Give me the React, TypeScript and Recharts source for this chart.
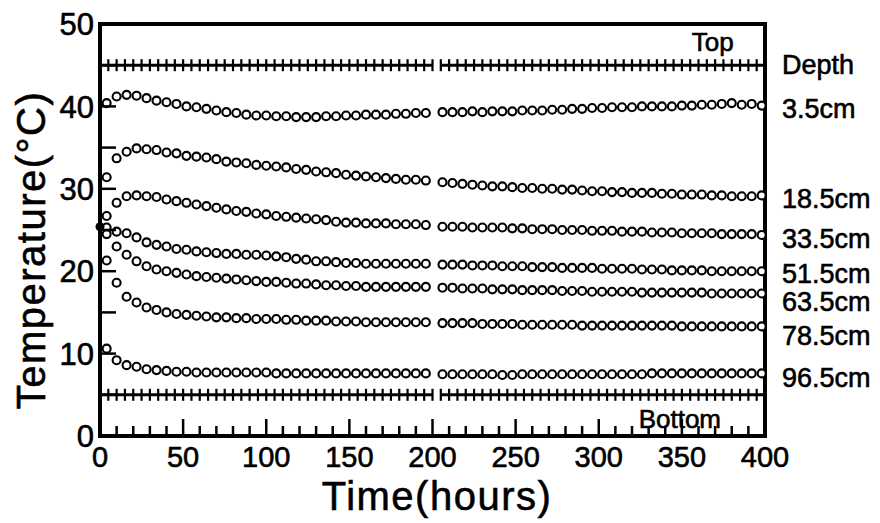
import React from 'react';
import { ComposedChart, Scatter, XAxis, YAxis } from 'recharts';

// ---- data ----
const times = [
  4, 10, 16, 22, 28, 34, 40, 46, 52, 58, 64, 70, 76, 82, 88, 94, 100, 106, 112, 118, 124, 130, 136, 142, 148, 154, 160, 166, 172, 178, 184, 190, 196,
  206, 212, 218, 224, 230, 236, 242, 248, 254, 260, 266, 272, 278, 284, 290, 296, 302, 308, 314, 320, 326, 332, 338, 344, 350, 356, 362, 368, 374, 380, 386, 392, 398,
];

const depthNames = ['3.5cm', '18.5cm', '33.5cm', '51.5cm', '63.5cm', '78.5cm', '96.5cm'];

const temp3_5 = [
  40.4, 41.2, 41.4, 41.3, 41.0, 40.7, 40.5, 40.3, 40.0, 39.9, 39.7, 39.5, 39.3, 39.2, 39.0, 38.9, 38.9, 38.8, 38.8, 38.7, 38.7, 38.7, 38.8, 38.8, 38.9, 38.9, 39.0, 39.0, 39.0, 39.1, 39.1, 39.2, 39.2,
  39.3, 39.3, 39.3, 39.4, 39.3, 39.4, 39.4, 39.4, 39.5, 39.5, 39.5, 39.6, 39.6, 39.7, 39.7, 39.8, 39.8, 39.9, 39.9, 39.9, 40.0, 40.0, 40.0, 40.0, 40.1, 40.1, 40.2, 40.2, 40.3, 40.4, 40.2, 40.3, 40.1,
];
const temp18_5 = [
  31.4, 33.7, 34.5, 34.9, 34.8, 34.7, 34.4, 34.3, 34.0, 33.9, 33.8, 33.6, 33.3, 33.2, 33.1, 32.9, 32.8, 32.7, 32.6, 32.4, 32.3, 32.1, 32.0, 31.9, 31.7, 31.6, 31.5, 31.4, 31.3, 31.2, 31.1, 31.1, 31.0,
  30.8, 30.7, 30.6, 30.5, 30.4, 30.3, 30.3, 30.2, 30.1, 30.1, 30.0, 30.0, 29.9, 29.9, 29.8, 29.7, 29.7, 29.6, 29.6, 29.5, 29.5, 29.5, 29.4, 29.4, 29.3, 29.3, 29.3, 29.2, 29.2, 29.1, 29.1, 29.1, 29.2,
];
const temp33_5 = [
  26.7, 28.3, 29.1, 29.2, 29.1, 29.0, 28.7, 28.5, 28.3, 28.1, 27.9, 27.7, 27.5, 27.3, 27.2, 27.0, 26.9, 26.7, 26.6, 26.5, 26.4, 26.3, 26.2, 26.0, 25.9, 25.9, 25.8, 25.8, 25.8, 25.7, 25.7, 25.7, 25.6,
  25.4, 25.4, 25.4, 25.3, 25.3, 25.3, 25.3, 25.2, 25.2, 25.1, 25.1, 25.1, 25.0, 25.0, 25.0, 24.9, 24.9, 24.9, 24.8, 24.8, 24.8, 24.7, 24.7, 24.7, 24.6, 24.6, 24.6, 24.6, 24.5, 24.5, 24.5, 24.5, 24.4,
];
const temp51_5 = [
  25.3, 24.8, 24.6, 24.1, 23.5, 23.2, 23.0, 22.7, 22.6, 22.4, 22.3, 22.2, 22.1, 22.1, 22.0, 22.0, 21.9, 21.8, 21.7, 21.5, 21.4, 21.2, 21.2, 21.1, 21.0, 21.0, 20.9, 20.9, 20.9, 20.9, 20.9, 20.9, 20.9,
  20.8, 20.8, 20.8, 20.7, 20.7, 20.7, 20.6, 20.6, 20.6, 20.5, 20.5, 20.5, 20.4, 20.4, 20.4, 20.4, 20.3, 20.3, 20.3, 20.3, 20.2, 20.2, 20.2, 20.1, 20.1, 20.1, 20.1, 20.0, 20.0, 20.0, 20.0, 20.0, 20.0,
];
const temp63_5 = [
  24.5, 23.0, 22.0, 21.2, 20.6, 20.2, 20.0, 19.8, 19.6, 19.4, 19.3, 19.2, 19.1, 19.0, 18.9, 18.8, 18.7, 18.7, 18.6, 18.5, 18.5, 18.4, 18.3, 18.3, 18.2, 18.2, 18.1, 18.1, 18.1, 18.1, 18.1, 18.1, 18.1,
  18.0, 18.0, 17.9, 17.9, 17.9, 17.8, 17.8, 17.8, 17.7, 17.7, 17.7, 17.7, 17.6, 17.6, 17.6, 17.5, 17.5, 17.5, 17.5, 17.5, 17.4, 17.4, 17.4, 17.4, 17.4, 17.4, 17.4, 17.3, 17.3, 17.3, 17.3, 17.3, 17.3,
];
const temp78_5 = [
  21.3, 18.6, 16.9, 16.2, 15.6, 15.3, 15.0, 14.8, 14.7, 14.6, 14.5, 14.4, 14.4, 14.3, 14.3, 14.2, 14.2, 14.2, 14.1, 14.1, 14.0, 14.0, 14.0, 13.9, 13.9, 13.9, 13.8, 13.8, 13.8, 13.8, 13.8, 13.8, 13.8,
  13.7, 13.7, 13.7, 13.7, 13.6, 13.6, 13.6, 13.6, 13.5, 13.5, 13.5, 13.5, 13.5, 13.5, 13.4, 13.4, 13.4, 13.4, 13.4, 13.4, 13.4, 13.4, 13.4, 13.4, 13.3, 13.3, 13.3, 13.3, 13.3, 13.3, 13.3, 13.3, 13.3,
];
const temp96_5 = [
  10.6, 9.2, 8.6, 8.4, 8.1, 8.0, 7.9, 7.8, 7.8, 7.7, 7.7, 7.7, 7.7, 7.7, 7.7, 7.7, 7.7, 7.6, 7.6, 7.6, 7.6, 7.6, 7.6, 7.6, 7.6, 7.6, 7.6, 7.6, 7.6, 7.6, 7.6, 7.6, 7.6,
  7.5, 7.5, 7.5, 7.5, 7.5, 7.5, 7.4, 7.4, 7.5, 7.5, 7.5, 7.5, 7.5, 7.5, 7.5, 7.5, 7.5, 7.5, 7.5, 7.5, 7.5, 7.6, 7.6, 7.6, 7.6, 7.6, 7.6, 7.6, 7.6, 7.6, 7.6, 7.6, 7.6,
];
const seriesTemps = [temp3_5, temp18_5, temp33_5, temp51_5, temp63_5, temp78_5, temp96_5];

// initial measurement (filled dot at time zero)
const initialTimes = [0];
const initialTemps = [25.4];

// boundary conditions (Top / Bottom)
const boundaryTimesA = [
  0, 5, 10, 15, 20, 25, 30, 35, 40, 45, 50, 55, 60, 65, 70, 75, 80, 85, 90, 95, 100,
  105, 110, 115, 120, 125, 130, 135, 140, 145, 150, 155, 160, 165, 170, 175, 180, 185, 190, 195, 200,
];
const boundaryTimesB = [
  205, 210, 215, 220, 225, 230, 235, 240, 245, 250, 255, 260, 265, 270, 275, 280, 285, 290, 295, 300,
  305, 310, 315, 320, 325, 330, 335, 340, 345, 350, 355, 360, 365, 370, 375, 380, 385, 390, 395, 400,
];
const topTemp = 45;
const bottomTemp = 5;

// right-hand depth labels
const depthLabelTexts = ['Depth', '3.5cm', '18.5cm', '33.5cm', '51.5cm', '63.5cm', '78.5cm', '96.5cm'];
const depthLabelTemps = [45.1, 39.8, 28.8, 24.0, 19.7, 16.4, 12.2, 7.1];
const depthLabelTime = 400;

// zone annotations
const zoneTexts = ['Top', 'Bottom'];
const zoneTimes = [356, 324];
const zoneTemps = [46.7, 0.97];

// ticks
const xTicks = [0, 10, 20, 30, 40, 50, 60, 70, 80, 90, 100, 110, 120, 130, 140, 150, 160, 170, 180, 190, 200,
  210, 220, 230, 240, 250, 260, 270, 280, 290, 300, 310, 320, 330, 340, 350, 360, 370, 380, 390, 400];
const yTicks = [0, 5, 10, 15, 20, 25, 30, 35, 40, 45, 50];

// ---- build ----
const seriesData = seriesTemps.map((arr) => times.map((t, i) => ({ x: t, y: arr[i] })));
const initialData = initialTimes.map((t, i) => ({ x: t, y: initialTemps[i] }));
const topA = boundaryTimesA.map((t) => ({ x: t, y: topTemp }));
const topB = boundaryTimesB.map((t) => ({ x: t, y: topTemp }));
const botA = boundaryTimesA.map((t) => ({ x: t, y: bottomTemp }));
const botB = boundaryTimesB.map((t) => ({ x: t, y: bottomTemp }));
const depthLabelData = depthLabelTexts.map((s, i) => ({ x: depthLabelTime, y: depthLabelTemps[i], label: s }));
const zoneData = zoneTexts.map((s, i) => ({ x: zoneTimes[i], y: zoneTemps[i], label: s }));

const FONT = '"Liberation Sans", Arial, Helvetica, sans-serif';
const INK = '#000';
const TEXT_STROKE = 0.6;

const OpenCircle = (p: any) => (
  <circle cx={p.cx} cy={p.cy} r={4} fill="#fff" stroke={INK} strokeWidth={2.1} />
);
const FilledDot = (p: any) => <circle cx={p.cx} cy={p.cy} r={4.5} fill={INK} />;
const CrossTick = (p: any) => (
  <line x1={p.cx} x2={p.cx} y1={p.cy - 6} y2={p.cy + 6} stroke={INK} strokeWidth={2.2} />
);
const DepthLabel = (p: any) => (
  <text x={p.cx + 17} y={p.cy} dy="0.36em" fontSize={27} fontFamily={FONT} fill={INK} stroke={INK} strokeWidth={TEXT_STROKE}>
    {p.payload.label}
  </text>
);
const ZoneLabel = (p: any) => (
  <text x={p.cx} y={p.cy} fontSize={26} fontFamily={FONT} fill={INK} stroke={INK} strokeWidth={TEXT_STROKE}>
    {p.payload.label}
  </text>
);

const LeftTick = (props: any) => {
  const { x, y, payload } = props;
  const v = payload.value;
  return (
    <g>
      {v > 0 && v < 50 && <line x1={x} x2={x + 16} y1={y} y2={y} stroke={INK} strokeWidth={2.5} />}
      {v % 10 === 0 && (
        <text x={x - 6} y={y} dy="0.36em" textAnchor="end" fontSize={31} fontFamily={FONT} fill={INK} stroke={INK} strokeWidth={TEXT_STROKE}>
          {v}
        </text>
      )}
    </g>
  );
};
const RightTick = (props: any) => {
  const { x, y, payload } = props;
  const v = payload.value;
  return (
    <g>{v > 0 && v < 50 && <line x1={x} x2={x - 16} y1={y} y2={y} stroke={INK} strokeWidth={2.5} />}</g>
  );
};
const BottomTick = (props: any) => {
  const { x, y, payload } = props;
  const v = payload.value;
  const major = v % 50 === 0;
  return (
    <g>
      {v > 0 && v < 400 && <line x1={x} x2={x} y1={y} y2={y - (major ? 17 : 10)} stroke={INK} strokeWidth={2.5} />}
      {major && (
        <text x={x} y={y + 31} textAnchor="middle" fontSize={29} fontFamily={FONT} fill={INK} stroke={INK} strokeWidth={TEXT_STROKE}>
          {v}
        </text>
      )}
    </g>
  );
};
const TopTick = (props: any) => {
  const { x, y, payload } = props;
  const v = payload.value;
  const major = v % 50 === 0;
  return (
    <g>{v > 0 && v < 400 && <line x1={x} x2={x} y1={y} y2={y + (major ? 16 : 9)} stroke={INK} strokeWidth={2.5} />}</g>
  );
};

const axisLineStyle = { stroke: INK, strokeWidth: 4, strokeLinecap: 'square' as const };

export default function App() {
  return (
    <div style={{ position: 'absolute', left: 0, top: 0, width: 880, height: 523, background: '#fff', fontFamily: FONT }}>
      <ComposedChart width={880} height={523} margin={{ top: 14, right: 105, bottom: 57, left: 40 }}>
        <XAxis
          type="number"
          dataKey="x"
          domain={[0, 400]}
          ticks={xTicks}
          interval={0}
          height={30}
          axisLine={axisLineStyle}
          tickLine={false}
          tickSize={0}
          tickMargin={0}
          tick={<BottomTick />}
          label={{
            content: () => (
              <text x={437} y={510} textAnchor="middle" fontSize={40} letterSpacing={1.5} fontFamily={FONT} fill={INK} stroke={INK} strokeWidth={TEXT_STROKE}>
                Time(hours)
              </text>
            ),
          }}
        />
        <XAxis
          xAxisId="top"
          orientation="top"
          type="number"
          dataKey="x"
          domain={[0, 400]}
          ticks={xTicks}
          interval={0}
          height={10}
          axisLine={axisLineStyle}
          tickLine={false}
          tickSize={0}
          tickMargin={0}
          tick={<TopTick />}
        />
        <YAxis
          type="number"
          domain={[0, 50]}
          ticks={yTicks}
          interval={0}
          width={60}
          axisLine={axisLineStyle}
          tickLine={false}
          tickSize={0}
          tickMargin={0}
          tick={<LeftTick />}
          label={{
            content: () => (
              <text
                x={45}
                y={250}
                transform="rotate(-90 45 250)"
                textAnchor="middle"
                fontSize={40}
                letterSpacing={1.5}
                fontFamily={FONT}
                fill={INK}
                stroke={INK}
                strokeWidth={TEXT_STROKE}
              >
                Temperature(°C)
              </text>
            ),
          }}
        />
        <YAxis
          yAxisId="right"
          orientation="right"
          type="number"
          domain={[0, 50]}
          ticks={yTicks}
          interval={0}
          width={10}
          axisLine={axisLineStyle}
          tickLine={false}
          tickSize={0}
          tickMargin={0}
          tick={<RightTick />}
        />

        <Scatter data={topA} dataKey="y" line={{ stroke: INK, strokeWidth: 3 }} shape={CrossTick} isAnimationActive={false} />
        <Scatter data={topB} dataKey="y" line={{ stroke: INK, strokeWidth: 3 }} shape={CrossTick} isAnimationActive={false} />
        <Scatter data={botA} dataKey="y" line={{ stroke: INK, strokeWidth: 3 }} shape={CrossTick} isAnimationActive={false} />
        <Scatter data={botB} dataKey="y" line={{ stroke: INK, strokeWidth: 3 }} shape={CrossTick} isAnimationActive={false} />

        {seriesData.map((d, i) => (
          <Scatter key={depthNames[i]} name={depthNames[i]} data={d} dataKey="y" shape={OpenCircle} isAnimationActive={false} />
        ))}
        <Scatter data={initialData} dataKey="y" shape={FilledDot} isAnimationActive={false} />

        <Scatter data={depthLabelData} dataKey="y" shape={DepthLabel} isAnimationActive={false} />
        <Scatter data={zoneData} dataKey="y" shape={ZoneLabel} isAnimationActive={false} />
      </ComposedChart>
    </div>
  );
}
